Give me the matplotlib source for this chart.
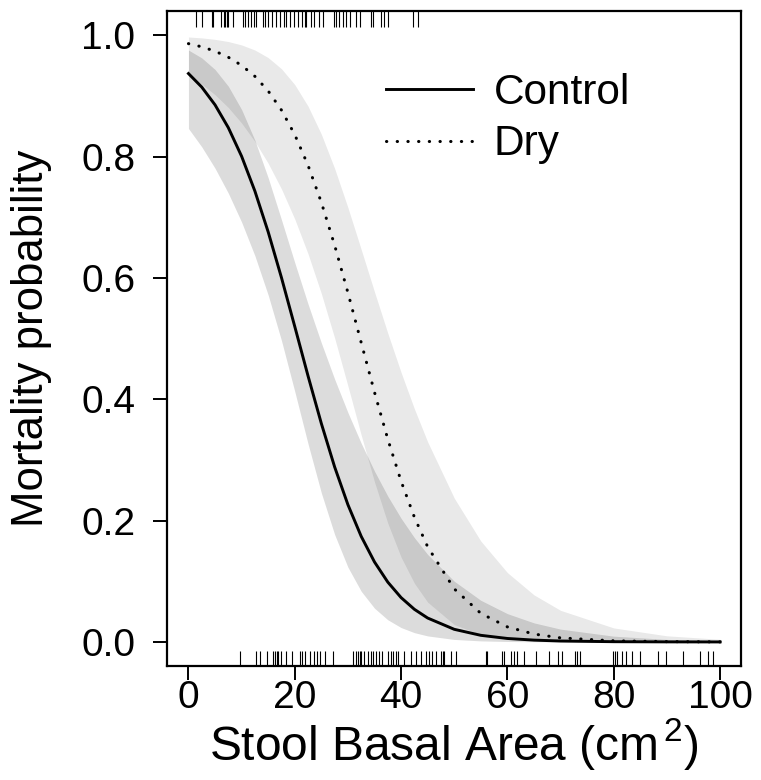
import matplotlib
matplotlib.use('Agg')
import matplotlib.pyplot as plt
import matplotlib.transforms as mtransforms

plt.rcParams['font.family'] = ['Liberation Sans', 'DejaVu Sans']
plt.rcParams['mathtext.fontset'] = 'custom'
plt.rcParams['mathtext.rm'] = 'Liberation Sans'
plt.rcParams['mathtext.it'] = 'Liberation Sans:italic'

# stool basal area grid (cm2)
area = [0, 2.5, 5, 7.5, 10, 12.5, 15, 17.5, 20, 22.5, 25, 27.5, 30, 32.5,
        35, 37.5, 40, 42.5, 45, 50, 55, 60, 65, 70, 80, 90, 100]

# Control: fitted mortality probability and 95% band
control_fit = [0.937, 0.9147, 0.8854, 0.8478, 0.8006, 0.7432, 0.6759, 0.6005,
               0.5200, 0.4384, 0.3601, 0.2885, 0.2262, 0.1740, 0.1318, 0.0986,
               0.0731, 0.0538, 0.0394, 0.0208, 0.0109, 0.0057, 0.0030, 0.0015,
               0.0004, 0.0001, 0.0000]
control_hi = [0.9757, 0.9628, 0.9437, 0.9161, 0.8776, 0.8270, 0.7651, 0.6960,
              0.6253, 0.5570, 0.4930, 0.4333, 0.3781, 0.3275, 0.2815, 0.2403,
              0.2038, 0.1719, 0.1442, 0.1001, 0.0686, 0.0466, 0.0314, 0.0211,
              0.0095, 0.0042, 0.0019]
control_lo = [0.8465, 0.8162, 0.7809, 0.7398, 0.6921, 0.6366, 0.5718, 0.4968,
              0.4129, 0.3265, 0.2456, 0.1771, 0.1232, 0.0835, 0.0556, 0.0365,
              0.0237, 0.0153, 0.0099, 0.0041, 0.0017, 0.0007, 0.0003, 0.0001,
              0.0000, 0.0000, 0.0000]

# Dry: fitted mortality probability and 95% band
dry_fit = [0.9863, 0.9811, 0.9739, 0.9639, 0.9505, 0.9324, 0.9083, 0.8767,
           0.8362, 0.7856, 0.7246, 0.6539, 0.5757, 0.4934, 0.4116, 0.3343,
           0.2650, 0.2057, 0.1568, 0.0875, 0.0471, 0.0248, 0.0130, 0.0067,
           0.0018, 0.0005, 0.0001]
dry_hi = [0.9973, 0.9958, 0.9934, 0.9898, 0.9842, 0.9758, 0.9633, 0.9449,
          0.9188, 0.8832, 0.8370, 0.7806, 0.7161, 0.6470, 0.5771, 0.5090,
          0.4444, 0.3844, 0.3298, 0.2372, 0.1663, 0.1143, 0.0776, 0.0521,
          0.0231, 0.0101, 0.0044]
dry_lo = [0.9345, 0.9198, 0.9022, 0.8810, 0.8554, 0.8250, 0.7890, 0.7467,
          0.6971, 0.6397, 0.5742, 0.5010, 0.4219, 0.3410, 0.2639, 0.1958,
          0.1399, 0.0969, 0.0656, 0.0287, 0.0121, 0.0050, 0.0020, 0.0008,
          0.0001, 0.0000, 0.0000]

# observed stools: dead (top rug) and alive (bottom rug)
dead = [1.4, 2.5, 4.4, 4.7, 6.1, 6.6, 6.9, 7.2, 7.5, 8.4, 10.3, 10.6, 11.2,
        11.8, 12.3, 12.8, 14.1, 14.4, 15.0, 15.8, 16.4, 17.3, 17.9, 18.4,
        19.1, 19.8, 20.6, 21.4, 21.9, 22.2, 23.1, 23.7, 24.5, 25.4, 27.3,
        27.8, 28.4, 29.0, 29.7, 30.3, 31.6, 32.2, 34.4, 34.7, 36.2, 36.7,
        37.5, 42.3, 43.1]
alive = [9.7, 12.8, 13.4, 14.7, 15.9, 16.2, 16.6, 16.9, 17.5, 18.4, 19.4,
         20.9, 21.4, 21.9, 22.8, 23.7, 24.2, 24.7, 25.6, 27.2, 30.9, 31.6,
         31.9, 32.2, 32.5, 33.1, 33.7, 34.4, 34.7, 35.3, 35.9, 36.5, 37.5,
         38.1, 38.5, 39.0, 39.5, 40.6, 41.9, 42.8, 43.7, 44.7, 45.3, 45.9,
         46.5, 47.5, 47.8, 48.1, 49.3, 50.3, 55.9, 56.2, 59.0, 59.3, 60.6,
         61.2, 61.8, 63.1, 65.3, 67.8, 69.6, 70.3, 72.8, 73.1, 73.7, 79.9,
         80.3, 80.6, 81.5, 82.4, 83.4, 84.9, 88.4, 89.9, 93.1, 96.2, 97.7,
         98.7]

xticks = [0, 20, 40, 60, 80, 100]
yticks = [0.0, 0.2, 0.4, 0.6, 0.8, 1.0]

fig = plt.figure(figsize=(7.61, 7.80), dpi=100)
ax = fig.add_axes([0.2197, 0.1459, 0.7544, 0.8399])

# confidence bands (translucent, overlap gets darker)
ax.fill_between(area, dry_lo, dry_hi, color='black', alpha=0.088, linewidth=0)
ax.fill_between(area, control_lo, control_hi, color='black', alpha=0.137, linewidth=0)

ax.plot(area, control_fit, color='black', lw=2.1, label='Control')
ax.plot(area, dry_fit, color='black', lw=2.2, linestyle=(0, (0.1, 3.4)),
        dash_capstyle='round', label='Dry')

# rugs
trans = mtransforms.blended_transform_factory(ax.transData, ax.transAxes)
ax.vlines(dead, 0.976, 1.0, transform=trans, color='black', lw=0.8)
ax.vlines(alive, 0.0, 0.023, transform=trans, color='black', lw=0.8)

ax.set_xlim(-4, 104)
ax.set_ylim(-0.04, 1.04)
ax.set_xticks(xticks)
ax.set_xticklabels([str(t) for t in xticks])
ax.set_yticks(yticks)
ax.set_yticklabels(['%.1f' % t for t in yticks])
ax.tick_params(axis='both', labelsize=28, length=10, width=1.4, color='black')
ax.tick_params(axis='x', pad=0)
ax.tick_params(axis='y', pad=13)

for sp in ax.spines.values():
    sp.set_linewidth(1.6)

ax.set_xlabel(r'Stool Basal Area (cm$^{\,2}$)', fontsize=34.5, labelpad=0)
ax.set_ylabel('Mortality probability', fontsize=31.5, labelpad=21)

ax.legend(loc='upper left', bbox_to_anchor=(0.381, 0.905), frameon=False,
          fontsize=30.5, handlelength=2.05, handletextpad=0.5,
          labelspacing=0.26, borderpad=0, borderaxespad=0)

fig.savefig('out.png', dpi=100)
